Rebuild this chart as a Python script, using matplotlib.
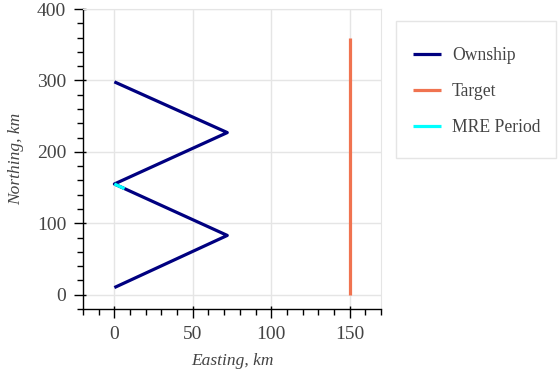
import matplotlib.pyplot as plt
from matplotlib.patches import Rectangle
from matplotlib.ticker import MultipleLocator
from matplotlib.markers import TICKUP, TICKRIGHT

# track data (km)
own_east = [0, 72, 0, 72, 0]
own_north = [10, 83, 155, 227, 298]
tgt_east = [150, 150]
tgt_north = [0, 360]
mre_east = [6.5, 0]
mre_north = [148.5, 155]

plt.rcParams['font.family'] = ['Liberation Serif', 'DejaVu Serif']

W, H = 558, 372
fig = plt.figure(figsize=(W / 100, H / 100), dpi=100)
ax = fig.add_axes([83 / W, 1 - 309 / H, (381 - 83) / W, (309 - 9) / H])

ax.plot(own_east, own_north, color='#000080', lw=2.3, label='Ownship', solid_capstyle='butt')
ax.plot(tgt_east, tgt_north, color='#F07350', lw=2.3, label='Target', solid_capstyle='butt')
ax.plot(mre_east, mre_north, color='#00FFFF', lw=2.3, label='MRE Period', solid_capstyle='butt')

xmin, xmax, ymin, ymax = -20, 170, -20, 400
ax.set_xlim(xmin, xmax)
ax.set_ylim(ymin, ymax)
ax.xaxis.set_major_locator(MultipleLocator(50))
ax.xaxis.set_minor_locator(MultipleLocator(10))
ax.yaxis.set_major_locator(MultipleLocator(100))
ax.yaxis.set_minor_locator(MultipleLocator(20))

ax.grid(True, which='major', color='#e5e5e5', lw=1)
ax.set_axisbelow(True)
for s in ['top', 'right']:
    ax.spines[s].set_color('#e5e5e5')
for s in ['left', 'bottom']:
    ax.spines[s].set_color('black')
    ax.spines[s].set_linewidth(1)

ax.tick_params(which='major', direction='out', length=6.5, width=1, labelsize=14,
               labelcolor='#444444', pad=5.5)
ax.tick_params(which='minor', direction='out', length=4.3, width=1)

# short inward part of the major ticks
xt = [v for v in ax.get_xticks() if xmin <= v <= xmax]
yt = [v for v in ax.get_yticks() if ymin <= v <= ymax]
ax.plot(xt, [ymin] * len(xt), ls='none', marker=TICKUP, ms=2.2, mew=1,
        color='black', clip_on=False)
ax.plot([xmin] * len(yt), yt, ls='none', marker=TICKRIGHT, ms=2.2, mew=1,
        color='black', clip_on=False)

ax.set_xlabel('Easting, km', fontstyle='italic', fontsize=12.5, color='#444444', labelpad=7.5)
ax.set_ylabel('Northing, km', fontstyle='italic', fontsize=12.5, color='#444444', labelpad=9.5)

# legend box
fig.patches.append(Rectangle((396 / W, 1 - 158 / H), 160 / W, 137 / H,
                             transform=fig.transFigure, facecolor='white',
                             edgecolor='#e5e5e5', lw=1))
handles, labels = ax.get_legend_handles_labels()
leg = fig.legend(handles, labels, loc='upper left', bbox_to_anchor=(413 / W, 1 - 47 / H),
                 frameon=False, fontsize=12.7, labelspacing=1.07, handlelength=1.6,
                 handletextpad=0.6, borderpad=0, borderaxespad=0)
for t in leg.get_texts():
    t.set_color('#444444')

fig.savefig('out.png', dpi=100)
